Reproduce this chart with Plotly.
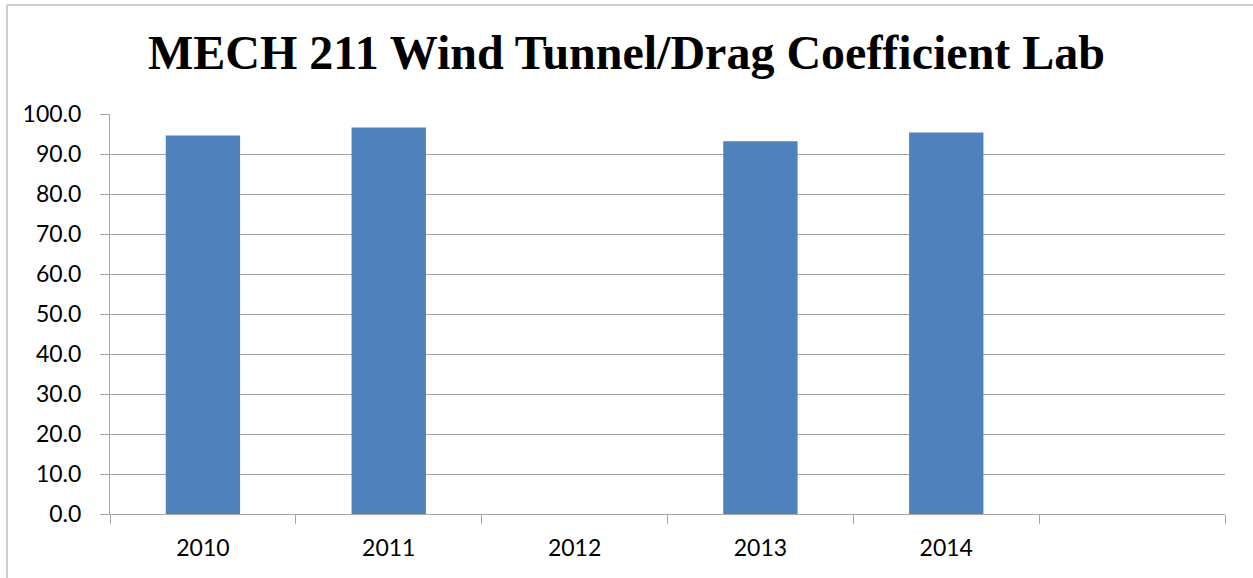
import plotly.graph_objects as go

categories = ["2010", "2011", "2012", "2013", "2014", " "]
scores = [94.6, 96.6, None, 93.2, 95.4, None]
y_ticks = [0, 10, 20, 30, 40, 50, 60, 70, 80, 90, 100]
title_text = "MECH 211 Wind Tunnel/Drag Coefficient Lab"

W, H = 1253, 578
L, R, T, B = 110, 28, 114, 64

fig = go.Figure()
fig.add_trace(go.Bar(x=categories, y=scores, marker=dict(color="#4f81bd", line=dict(width=0)),
                     width=0.4, hoverinfo="x+y"))

def px_to_paper_x(px):
    return (px - L) / (W - L - R)

def px_to_paper_y(py):
    return (H - B - py) / (H - T - B)

frame_color = "#bfbfbf"
fig.update_layout(
    width=W, height=H,
    margin=dict(l=L, r=R, t=T, b=B, pad=0),
    paper_bgcolor="white", plot_bgcolor="white",
    showlegend=False,
    title=dict(text="<b>" + title_text + "</b>", x=0.5, xanchor="center", xref="container",
               y=1 - 52 / H, yanchor="middle", yref="container",
               font=dict(family="Liberation Serif", size=48, color="black")),
    xaxis=dict(type="category", categoryorder="array", categoryarray=categories,
               showgrid=False, showline=True, linecolor="#a6a6a6", linewidth=1,
               ticks="outside", tickson="boundaries", ticklen=9, tickcolor="#a6a6a6",
               tickfont=dict(family="Lato", size=23, color="black"),
               ticklabelstandoff=13),
    yaxis=dict(range=[0, 100], tickvals=y_ticks, tickformat=".1f",
               showgrid=True, gridcolor="#a6a6a6", gridwidth=1,
               showline=True, linecolor="#a6a6a6", linewidth=1,
               ticks="outside", ticklen=9, tickcolor="#a6a6a6",
               tickfont=dict(family="Lato", size=23, color="black"),
               ticklabelstandoff=14, zeroline=False, fixedrange=True),
    shapes=[
        dict(type="line", xref="paper", yref="paper",
             x0=px_to_paper_x(7), x1=px_to_paper_x(7),
             y0=px_to_paper_y(5), y1=px_to_paper_y(H + 5),
             line=dict(color=frame_color, width=1.5)),
        dict(type="line", xref="paper", yref="paper",
             x0=px_to_paper_x(7), x1=px_to_paper_x(W + 5),
             y0=px_to_paper_y(5), y1=px_to_paper_y(5),
             line=dict(color=frame_color, width=1.5)),
    ],
)

fig.write_html("out.html")
